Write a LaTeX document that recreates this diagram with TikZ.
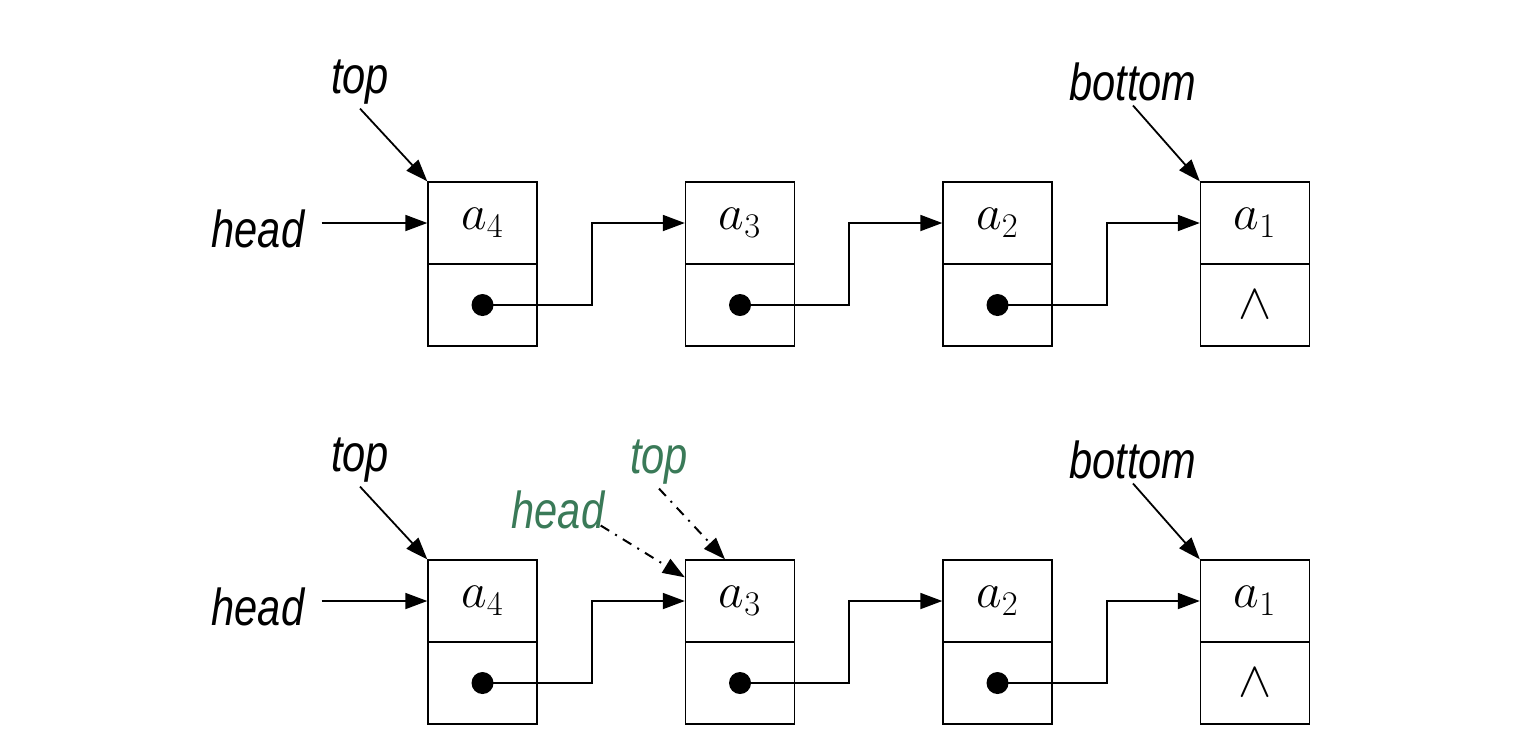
\documentclass[tikz,border=0pt]{standalone}
\usepackage{fontspec}
\setmainfont{Liberation Sans}
\usepackage{graphicx}
\usetikzlibrary{arrows.meta}
\definecolor{ptrgreen}{RGB}{58,122,88}
\tikzset{cell/.style={draw,line width=.7pt,minimum width=54.5pt,minimum height=41pt,inner sep=0pt,font=\fontsize{26}{30}\selectfont},
  dot/.style={circle,fill,minimum size=11pt,inner sep=0pt},
  arrow/.style={-{Triangle[length=11pt,width=8pt]},line width=.9pt},
  dashdot/.style={arrow,line width=1pt,dash pattern=on 5pt off 3.5pt on 1pt off 3.5pt},
  tag/.style={font=\fontsize{26}{30}\selectfont\itshape,inner sep=2pt}}
\newcommand\narrow[1]{\scalebox{.8}[1]{#1}}

\begin{document}
\begin{tikzpicture}[x=.5pt,y=-.5pt]
  \path[use as bounding box] (0,0) rectangle (1534,746);
  \foreach \r/\y in {u/223,l/601}{
    \foreach \i/\x in {4/482.5,3/740,2/997.5,1/1255}{
      \node[cell] (v\r\i) at (\x,\y) {$a_{\i}$};
      \node[cell] (p\r\i) at (\x,\y+82) {};
    }
    \node[font=\fontsize{24}{28}\selectfont] (w\r) at (p\r1) {$\wedge$};
    \foreach \i/\j in {4/3,3/2,2/1}{
      \draw[arrow] (p\r\i.center) -- ([xshift=27pt]p\r\i.east) |- (v\r\j.west);
      \node[dot] (d\r\i) at (p\r\i) {};
    }
    \node[tag] (top\r) at (360,\y-141) {\narrow{top}};
    \node[tag] (bot\r) at (1133,\y-141) {\narrow{bottom}};
    \node[tag] (head\r) at (258,\y+6) {\narrow{head}};
    \draw[arrow] (top\r.south) -- (v\r4.north west);
    \draw[arrow] (bot\r.south) -- (v\r1.north west);
    \draw[arrow] ([xshift=6.5pt]head\r.east |- v\r4.west) -- (v\r4.west);
  }
  % moved pointers
  \node[tag,text=ptrgreen] (headn) at (558,510) {\narrow{head}};
  \node[tag,text=ptrgreen] (topn) at (659,462) {\narrow{top}};
  \draw[dashdot] ([xshift=-4pt,yshift=4pt]headn.south east) -- ([yshift=-9pt]vl3.north west);
  \draw[dashdot] (topn.south) -- ([xshift=-7.5pt]vl3.north);
\end{tikzpicture}
\end{document}
